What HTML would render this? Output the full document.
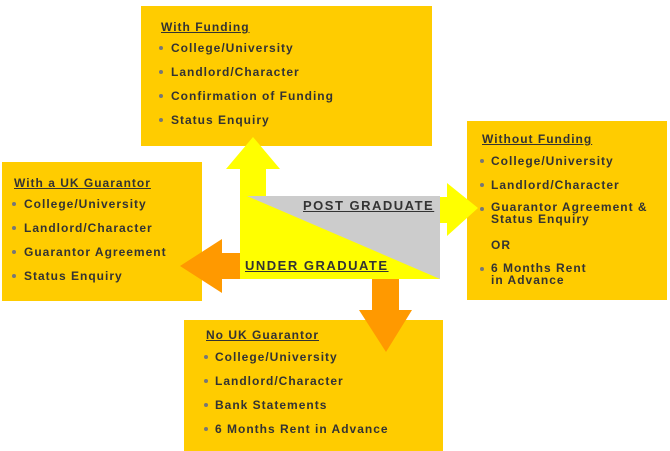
<!DOCTYPE html>
<html><head><style>
body{margin:0;width:670px;height:451px;background:#fff;position:relative;overflow:hidden;font-family:"Liberation Sans",sans-serif;}
.b{position:absolute;background:#ffcc00;}
.t{position:absolute;font-weight:bold;font-size:12px;letter-spacing:1px;color:#333;line-height:16px;white-space:nowrap;}
.u{text-decoration:underline;}
.d{position:absolute;width:4px;height:4px;border-radius:2px;background:#777;}
</style></head><body>
<div class="b" style="left:141px;top:6px;width:291px;height:140px"></div>
<div class="b" style="left:2px;top:162px;width:200px;height:139px"></div>
<div class="b" style="left:467px;top:121px;width:200px;height:179px"></div>
<div class="b" style="left:184px;top:320px;width:259px;height:131px"></div>
<svg width="670" height="451" style="position:absolute;left:0;top:0">
<polygon points="240,197 240,169 226,169 253,137 280,169 266,169 266,197" fill="#ffff00"/>
<polygon points="440,197 447,197 447,183 478,208 447,236 447,223 440,223" fill="#ffff00"/>
<polygon points="240,253 222,253 222,239 180,266 222,293 222,279 240,279" fill="#ff9900"/>
<polygon points="372,279 372,310 359,310 386,352 412,310 399,310 399,279" fill="#ff9900"/>
<rect x="240" y="196" width="200" height="83" fill="#ffff00"/>
<polygon points="247,196 440,196 440,279" fill="#cccccc"/>
</svg>
<div class="t u" style="left:303px;top:198px;font-size:13px;letter-spacing:1.5px">POST GRADUATE</div>
<div class="t u" style="left:245px;top:258px;font-size:13px;letter-spacing:1.5px">UNDER GRADUATE</div>

<div class="t u" style="left:161px;top:19px">With Funding</div>
<div class="d" style="left:159px;top:46px"></div><div class="t" style="left:171px;top:40px">College/University</div>
<div class="d" style="left:159px;top:70px"></div><div class="t" style="left:171px;top:64px">Landlord/Character</div>
<div class="d" style="left:159px;top:94px"></div><div class="t" style="left:171px;top:88px">Confirmation of Funding</div>
<div class="d" style="left:159px;top:118px"></div><div class="t" style="left:171px;top:112px">Status Enquiry</div>

<div class="t u" style="left:14px;top:175px">With a UK Guarantor</div>
<div class="d" style="left:12px;top:202px"></div><div class="t" style="left:24px;top:196px">College/University</div>
<div class="d" style="left:12px;top:226px"></div><div class="t" style="left:24px;top:220px">Landlord/Character</div>
<div class="d" style="left:12px;top:250px"></div><div class="t" style="left:24px;top:244px">Guarantor Agreement</div>
<div class="d" style="left:12px;top:274px"></div><div class="t" style="left:24px;top:268px">Status Enquiry</div>

<div class="t u" style="left:482px;top:131px">Without Funding</div>
<div class="d" style="left:480px;top:159px"></div><div class="t" style="left:491px;top:153px">College/University</div>
<div class="d" style="left:480px;top:183px"></div><div class="t" style="left:491px;top:177px">Landlord/Character</div>
<div class="d" style="left:480px;top:207px"></div><div class="t" style="left:491px;top:201px;line-height:12px">Guarantor Agreement &amp;<br>Status Enquiry</div>
<div class="t" style="left:491px;top:237px">OR</div>
<div class="d" style="left:480px;top:267px"></div><div class="t" style="left:491px;top:262px;line-height:12px">6 Months Rent<br>in Advance</div>

<div class="t u" style="left:206px;top:327px">No UK Guarantor</div>
<div class="d" style="left:204px;top:355px"></div><div class="t" style="left:215px;top:349px">College/University</div>
<div class="d" style="left:204px;top:379px"></div><div class="t" style="left:215px;top:373px">Landlord/Character</div>
<div class="d" style="left:204px;top:403px"></div><div class="t" style="left:215px;top:397px">Bank Statements</div>
<div class="d" style="left:204px;top:427px"></div><div class="t" style="left:215px;top:421px">6 Months Rent in Advance</div>
</body></html>
